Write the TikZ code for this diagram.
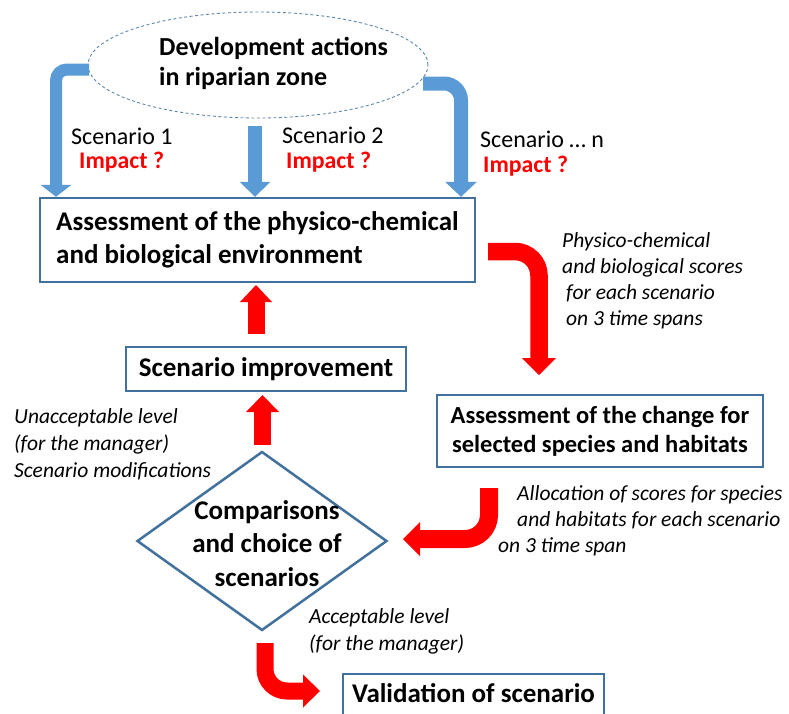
\documentclass[tikz,border=0pt]{standalone}
\usepackage{fontspec}
\setmainfont{Carlito}
\usetikzlibrary{arrows.meta,shapes.geometric}
\definecolor{boxblue}{HTML}{41719C}
\definecolor{arrblue}{HTML}{5B9BD5}
\definecolor{hotred}{HTML}{FF0000}
\newcommand\linesblock[2]{\begin{tabular}[t]{@{}#1@{}}#2\end{tabular}}
\newcommand\mainb{\fontsize{27}{33}\selectfont\bfseries}
\newcommand\chgb{\fontsize{24.5}{29}\selectfont\bfseries}
\newcommand\ellb{\fontsize{26}{30}\selectfont\bfseries}
\newcommand\scen{\fontsize{24}{28}\selectfont}
\newcommand\impb{\fontsize{23.8}{28}\selectfont\bfseries}
\newcommand\itlbl{\fontsize{21.5}{26.5}\selectfont\itshape}
\begin{document}
\begin{tikzpicture}[x=1pt,y=-1pt,
  box/.style={draw=boxblue, line width=2.5pt, inner sep=0pt},
  bluearr/.style={draw=arrblue, line width=#1, line cap=butt},
  redarr/.style={draw=hotred, line width=#1, line cap=butt},
  lbl/.style={inner sep=0pt, anchor=base west},
  ]
\fill[white] (0,0) rectangle (789,713);
\useasboundingbox (0,0) rectangle (789,713);

% ellipse
\node[draw=boxblue!85, line width=0.9pt, dash pattern=on 3pt off 2.5pt, ellipse,
      minimum width=340pt, minimum height=106pt, inner sep=0pt] (dev) at (258,65) {};
\node[lbl, font=\ellb] (devtext) at (159,55) {\linesblock{l}{Development actions\\in riparian zone}};

% main box
\node[box, minimum width=435pt, minimum height=84pt, font=\mainb, align=left] (main) at (257.5,240)
  {Assessment of the physico-chemical\\and biological environment};

% blue arrows
\coordinate (bl0) at (89,69.5);
\coordinate (bl1) at (56,69.5);
\draw[bluearr=12pt, rounded corners=11pt, -{Triangle[width=31pt,length=12pt,line width=0pt]}]
  (bl0) -- (bl1) -- (bl1 |- main.north);
\coordinate (bm0) at (255,126);
\draw[bluearr=14pt, -{Triangle[width=31pt,length=15pt,line width=0pt]}]
  (bm0) -- (bm0 |- main.north);
\coordinate (br0) at (423,83.5);
\coordinate (br1) at (461,83.5);
\draw[bluearr=14pt, rounded corners=17pt, -{Triangle[width=32pt,length=15pt,line width=0pt]}]
  (br0) -- (br1) -- (br1 |- main.north);

% scenario labels
\node[lbl, font=\scen] (s1) at (71,144) {Scenario 1};
\node[lbl, font=\impb, text=hotred] (i1) at (79,168) {Impact ?};
\node[lbl, font=\scen] (s2) at (282,143) {Scenario 2};
\node[lbl, font=\impb, text=hotred] (i2) at (286,168) {Impact ?};
\node[lbl, font=\scen] (sn) at (480,147) {Scenario … n};
\node[lbl, font=\impb, text=hotred] (inn) at (483,172) {Impact ?};

% change box
\node[box, minimum width=326pt, minimum height=72pt, font=\chgb, align=center] (change) at (600,431)
  {Assessment of the change for\\selected species and habitats};

% improvement box
\node[box, minimum width=280pt, minimum height=44pt, font=\mainb] (impr) at (266,369) {Scenario improvement};

% diamond
\node[draw=boxblue, line width=2.5pt, diamond, minimum width=250pt, minimum height=179pt, inner sep=0pt] (cmp) at (262,541) {};
\node[inner sep=0pt, anchor=base, font=\fontsize{27}{33.5}\selectfont\bfseries] (cmptext) at (267,519)
  {\linesblock{c}{Comparisons\\and choice of\\scenarios}};

% validation box
\node[draw=boxblue, line width=2.5pt, font=\mainb, text height=28pt, text depth=40pt,
      inner sep=0pt, minimum width=261pt, anchor=base] (valid) at (473.5,702) {Validation of scenario};

% red arrows
\coordinate (ra0) at (488,251.5);
\coordinate (ra1) at (539,251.5);
\coordinate (ra2) at (539,375);
\draw[redarr=17.5pt, rounded corners=24pt, -{Triangle[width=34pt,length=17pt,line width=0pt]}]
  (ra0) -- (ra1) -- (ra2);
\coordinate (rb0) at (256,334);
\coordinate (rb1) at (256,285);
\draw[redarr=17pt, -{Triangle[width=32pt,length=17pt,line width=0pt]}] (rb0) -- (rb1);
\coordinate (rc0) at (262.5,445);
\coordinate (rc1) at (262.5,395);
\draw[redarr=17pt, -{Triangle[width=33pt,length=17pt,line width=0pt]}] (rc0) -- (rc1);
\coordinate (rd0) at (489,488);
\coordinate (rd1) at (489,539);
\coordinate (rd2) at (403,539);
\draw[redarr=18pt, rounded corners=24pt, -{Triangle[width=34pt,length=17pt,line width=0pt]}]
  (rd0) -- (rd1) -- (rd2);
\coordinate (re0) at (265,643);
\coordinate (re1) at (265,691);
\coordinate (re2) at (320,691);
\draw[redarr=17pt, rounded corners=22pt, -{Triangle[width=33pt,length=17pt,line width=0pt]}]
  (re0) -- (re1) -- (re2);

% italic labels
\node[lbl, font=\itlbl] (phys) at (562,247)
  {\fontsize{21.5}{26}\selectfont\linesblock{l}{Physico-chemical\\and biological scores\\\hspace{4pt}for each scenario\\\hspace{4pt}on 3 time spans}};
\node[lbl, font=\itlbl] (unacc) at (14,423)
  {\fontsize{21.5}{27}\selectfont\linesblock{l}{Unacceptable level\\(for the manager)\\Scenario modifications}};
\node[lbl, font=\itlbl] (alloc) at (498,500)
  {\fontsize{21.5}{26}\selectfont\linesblock{l}{\hspace{19pt}Allocation of scores for species\\\hspace{19pt}and habitats for each scenario\\on 3 time span}};
\node[lbl, font=\itlbl] (acc) at (309,623)
  {\fontsize{21.5}{27}\selectfont\linesblock{l}{Acceptable level\\(for the manager)}};
\end{tikzpicture}
\end{document}
